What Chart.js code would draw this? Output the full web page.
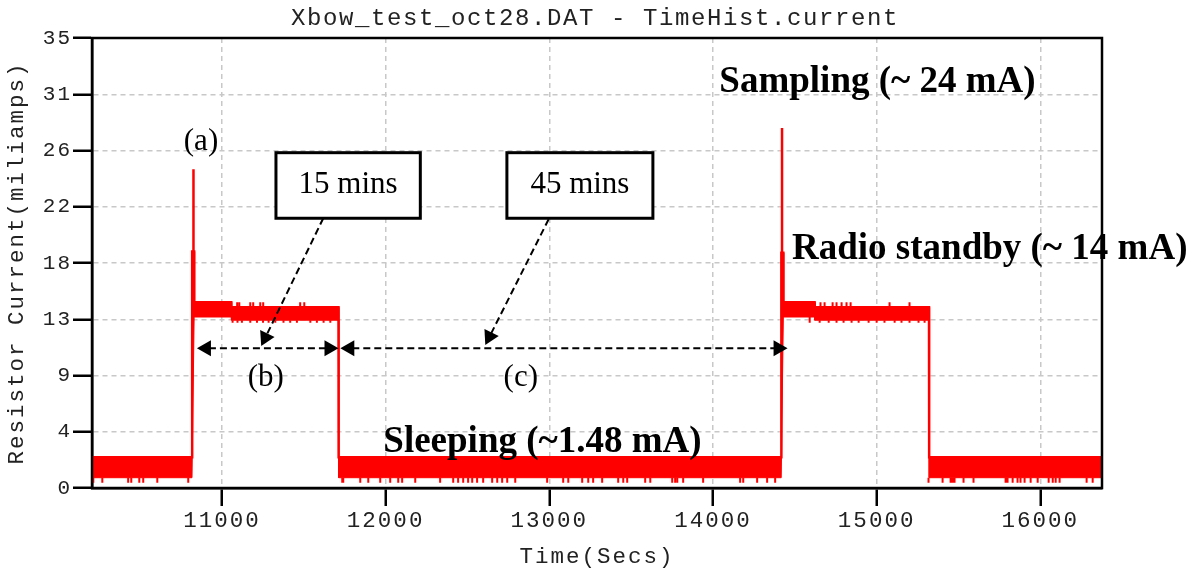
<!DOCTYPE html>
<html>
<head>
<meta charset="utf-8">
<script src="https://cdn.jsdelivr.net/npm/chart.js@4.4.1/dist/chart.umd.min.js"></script>
<style>
  html, body { margin: 0; padding: 0; background: #fff; }
</style>
</head>
<body>
<canvas id="currentChart" width="1199" height="574"></canvas>
<script>
// ==========================
// DATOS (tiempo en s, corriente en mA)
// ==========================
const X_MIN = 10206, X_MAX = 16377;
const xTicks = [11000, 12000, 13000, 14000, 15000, 16000];
const yTicks = [0, 4.375, 8.75, 13.125, 17.5, 21.875, 26.25, 30.625, 35];
const yTickLabels = ['0', '4', '9', '13', '18', '22', '26', '31', '35'];

// envolvente de la traza: borde superior e inferior de la banda de ruido
const envTimes = [10206, 10817, 10818, 10830, 10831, 11057, 11058, 11712, 11713, 14417, 14418, 14430, 14431, 14621, 14622, 15320, 15321, 16377];
const envHigh  = [2.4, 2.4, 18.4, 18.4, 14.45, 14.45, 14.05, 14.05, 2.4, 2.4, 18.3, 18.3, 14.45, 14.45, 14.05, 14.05, 2.4, 2.4];
const envLow   = [0.8, 0.8, 0.8, 13.3, 13.3, 13.3, 13.05, 13.05, 0.8, 0.8, 0.8, 13.3, 13.3, 13.3, 13.05, 13.05, 0.8, 0.8];

// picos de muestreo
const peakTimes  = [10826, 14422];
const peakValues = [24.8, 28.0];

// caidas sueltas bajo la banda de sleep
const sleepDipTimes = [10214, 10269, 10427, 10446, 10495, 10519, 10605, 10794,
  11735, 11741, 11845, 11894, 11967, 12028, 12077, 12101, 12181, 12333, 12413, 12443, 12474, 12504,
  12529, 12559, 12596, 12651, 12682, 12712, 12743, 12792, 12987, 13085, 13116, 13201, 13238, 13268,
  13323, 13421, 13452, 13476, 13586, 13617, 13751, 13769, 13782, 13818, 13940, 14166, 14185, 14270,
  14331, 14380, 15317, 15403, 15452, 15464, 15476, 15531, 15592, 15788, 15800, 15831, 15861, 15879,
  15904, 15941, 15984, 16051, 16076, 16094, 16118, 16283, 16320];
const sleepDipFloor = 0.41;

// saltos y caidas dentro de la banda de radio
const radioUpTimes = [11093, 11106, 11173, 11191, 11234, 11252, 11478, 11503,
  14657, 14682, 14731, 14755, 14786, 14816, 14841, 15079, 15201];
const radioUpTop = 14.45;
const radioDipTimes = [11065, 11095, 11122, 11173, 11214, 11251, 11285, 11326, 11376, 11417, 11458,
  11540, 11580, 11621, 11662, 14591, 14652, 14707, 14755, 14798, 14847, 14890, 14951, 15000, 15048,
  15110, 15152, 15201, 15256, 15293];
const radioDipFloor = 12.85;

// ==========================
// ANOTACIONES (en unidades de datos)
// ==========================
const stateLabels = [
  { text: 'Sampling (~ 24 mA)', t: 14039, mA: 30.82 },
  { text: 'Radio standby (~ 14 mA)', t: 14483, mA: 17.81 },
  { text: 'Sleeping (~1.48 mA)', t: 11986, mA: 2.82 }
];
const markLabels = [
  { text: '(a)', t: 10872, mA: 26.29 },
  { text: '(b)', t: 11268, mA: 7.95 },
  { text: '(c)', t: 12826, mA: 7.95 }
];
const spanBoxes = [
  { text: '15 mins', t0: 11330, t1: 12212, top: 26.08, bottom: 20.98, base: 22.92, from: [11619, 20.98], to: [11240, 11.04] },
  { text: '45 mins', t0: 12741, t1: 13633, top: 26.08, bottom: 20.98, base: 22.92, from: [12996, 20.9], to: [12609, 11.12] }
];
const spanArrows = [
  { t0: 10847, t1: 11712, mA: 10.87 },
  { t0: 11723, t1: 14456, mA: 10.87 }
];

// ==========================
// HELPERS
// ==========================
function envelope(vals){
  return envTimes.map((t, i) => ({ x: t, y: vals[i] }));
}

// segmentos verticales sueltos, separados por huecos
function strokes(times, from, to){
  const pts = [];
  times.forEach((t, i) => {
    const a = Array.isArray(from) ? from[i] : from;
    const b = Array.isArray(to) ? to[i] : to;
    pts.push({ x: t, y: a }, { x: t, y: b }, { x: t, y: null });
  });
  return pts;
}

function radioLevel(t, upper){
  const early = (t < 11058) || (t >= 14418 && t < 14622);
  if (upper) return early ? 14.45 : 14.05;
  return early ? 13.3 : 13.05;
}

function arrowHead(ctx, x0, y0, x1, y1){
  const ang = Math.atan2(y1 - y0, x1 - x0);
  const len = 14, half = 8;
  ctx.beginPath();
  ctx.moveTo(x1, y1);
  ctx.lineTo(x1 - len * Math.cos(ang) + half * Math.sin(ang), y1 - len * Math.sin(ang) - half * Math.cos(ang));
  ctx.lineTo(x1 - len * Math.cos(ang) - half * Math.sin(ang), y1 - len * Math.sin(ang) + half * Math.cos(ang));
  ctx.closePath();
  ctx.fill();
}

function dashedArrow(ctx, x0, y0, x1, y1, both){
  const ang = Math.atan2(y1 - y0, x1 - x0);
  const sx = both ? x0 + 12 * Math.cos(ang) : x0;
  const sy = both ? y0 + 12 * Math.sin(ang) : y0;
  ctx.save();
  ctx.setLineDash([7, 4]);
  ctx.lineWidth = 2;
  ctx.beginPath();
  ctx.moveTo(sx, sy);
  ctx.lineTo(x1 - 12 * Math.cos(ang), y1 - 12 * Math.sin(ang));
  ctx.stroke();
  ctx.restore();
  arrowHead(ctx, x0, y0, x1, y1);
  if (both) arrowHead(ctx, x1, y1, x0, y0);
}

// ==========================
// PLUGINS
// ==========================
const textSpacing = {
  id: 'textSpacing',
  beforeDraw(chart){ chart.ctx.letterSpacing = '2px'; },
  afterDraw(chart){ chart.ctx.letterSpacing = '0px'; }
};

const frameAndNotes = {
  id: 'frameAndNotes',
  afterDatasetsDraw(chart){
    const { ctx, chartArea: a, scales: { x, y } } = chart;
    const px = t => x.getPixelForValue(t);
    const py = v => y.getPixelForValue(v);

    ctx.save();
    // marco del area de trazado
    ctx.strokeStyle = '#000';
    ctx.lineWidth = 2.5;
    ctx.strokeRect(a.left, a.top, a.right - a.left, a.bottom - a.top);

    // titulo
    ctx.letterSpacing = '1.6px';
    ctx.fillStyle = '#222';
    ctx.font = '24px "Liberation Mono"';
    ctx.textAlign = 'center';
    ctx.textBaseline = 'alphabetic';
    ctx.fillText('Xbow_test_oct28.DAT - TimeHist.current', (a.left + a.right) / 2 - 2, 25);

    ctx.letterSpacing = '0px';
    ctx.fillStyle = '#000';
    ctx.strokeStyle = '#000';

    // estados
    ctx.font = 'bold 37px "Liberation Serif"';
    ctx.textAlign = 'left';
    stateLabels.forEach(l => ctx.fillText(l.text, px(l.t), py(l.mA)));

    // (a) (b) (c)
    ctx.font = '31px "Liberation Serif"';
    ctx.textAlign = 'center';
    markLabels.forEach(l => ctx.fillText(l.text, px(l.t), py(l.mA)));

    // cajas de duracion con flecha
    spanBoxes.forEach(b => {
      ctx.fillStyle = '#fff';
      ctx.fillRect(px(b.t0), py(b.top), px(b.t1) - px(b.t0), py(b.bottom) - py(b.top));
      ctx.lineWidth = 3;
      ctx.strokeRect(px(b.t0), py(b.top), px(b.t1) - px(b.t0), py(b.bottom) - py(b.top));
      ctx.fillStyle = '#000';
      ctx.fillText(b.text, (px(b.t0) + px(b.t1)) / 2, py(b.base));
      dashedArrow(ctx, px(b.from[0]), py(b.from[1]), px(b.to[0]), py(b.to[1]), false);
    });

    // intervalos horizontales
    spanArrows.forEach(s => {
      dashedArrow(ctx, px(s.t0), py(s.mA), px(s.t1), py(s.mA), true);
    });
    ctx.restore();
  }
};

// ==========================
// GRAFICA
// ==========================
const RED = '#ff0000';
const monoTick = size => ({ family: 'Liberation Mono', size: size });

new Chart(document.getElementById('currentChart'), {
  type: 'line',
  data: {
    datasets: [
      { data: envelope(envHigh), borderColor: RED, borderWidth: 2.5, fill: false, pointRadius: 0 },
      { data: envelope(envLow), borderColor: RED, borderWidth: 1, backgroundColor: RED, fill: '-1', pointRadius: 0 },
      { data: strokes(peakTimes, 13.3, peakValues), borderColor: RED, borderWidth: 2.5, pointRadius: 0 },
      { data: strokes(sleepDipTimes, 0.8, sleepDipFloor), borderColor: RED, borderWidth: 2, pointRadius: 0 },
      { data: strokes(radioUpTimes, radioUpTimes.map(t => radioLevel(t, true)), radioUpTop), borderColor: RED, borderWidth: 2, pointRadius: 0 },
      { data: strokes(radioDipTimes, radioDipTimes.map(t => radioLevel(t, false)), radioDipFloor), borderColor: RED, borderWidth: 2, pointRadius: 0 }
    ]
  },
  options: {
    responsive: false,
    animation: false,
    events: [],
    layout: { padding: { left: 0, right: 97, top: 38, bottom: 0 } },
    plugins: {
      legend: { display: false },
      tooltip: { enabled: false },
      title: { display: false }
    },
    scales: {
      x: {
        type: 'linear',
        min: X_MIN,
        max: X_MAX,
        afterBuildTicks: s => { s.ticks = xTicks.map(v => ({ value: v })); },
        afterFit: s => { s.height = 86; },
        ticks: {
          color: '#222',
          font: monoTick(22.5),
          padding: 2,
          maxRotation: 0,
          autoSkip: false,
          callback: v => String(v)
        },
        grid: {
          color: '#c8c8c8',
          lineWidth: 1.5,
          tickColor: '#000',
          tickWidth: 2.5,
          tickLength: 18
        },
        border: { color: '#000', width: 2.5, dash: [5, 4] },
        title: {
          display: true,
          text: 'Time(Secs)',
          color: '#222',
          font: { family: 'Liberation Mono', size: 22.5 },
          padding: { top: 0, bottom: 3.5 }
        }
      },
      y: {
        min: 0,
        max: 35,
        afterBuildTicks: s => { s.ticks = yTicks.map(v => ({ value: v })); },
        afterFit: s => { s.width = 92; },
        ticks: {
          color: '#222',
          font: monoTick(21),
          padding: 1,
          callback: (v, i) => yTickLabels[i]
        },
        grid: {
          color: '#c8c8c8',
          lineWidth: 1.5,
          tickColor: '#000',
          tickWidth: 2.5,
          tickLength: 19
        },
        border: { color: '#000', width: 2.5, dash: [5, 4] },
        title: {
          display: true,
          text: 'Resistor Current(miliamps)',
          color: '#222',
          font: { family: 'Liberation Mono', size: 22.5 },
          padding: { top: 4, bottom: 0 }
        }
      }
    }
  },
  plugins: [textSpacing, frameAndNotes]
});
</script>
</body>
</html>
